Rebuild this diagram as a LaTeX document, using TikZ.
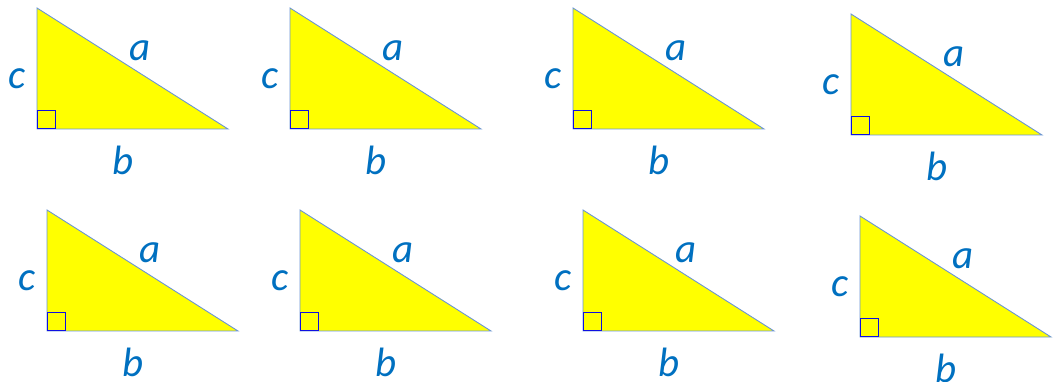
\documentclass[tikz,border=0pt]{standalone}
\usepackage{fontspec}
\setmainfont{Carlito}
\usetikzlibrary{positioning}
\definecolor{labelblue}{HTML}{0070C0}
\definecolor{edgeblue}{HTML}{6A94D4}
\definecolor{squareblue}{HTML}{1010E0}
\definecolor{trifill}{HTML}{FFFF00}

\begin{document}
\begin{tikzpicture}[
    x=1pt, y=-1pt,
    tri/.style={draw=edgeblue, fill=trifill, line width=0.9pt},
    rightsq/.style={draw=squareblue, line width=1.4pt},
    lbl/.style={text=labelblue, inner sep=0pt, font=\fontsize{41}{41}\selectfont\itshape}
]
\useasboundingbox (0,0) rectangle (1053,382);
% one right triangle per corner (bottom-left vertex given)
\foreach \i/\x/\y in {1/37/129, 2/290/129, 3/573/129, 4/851/135,
                      5/47/331, 6/300/331, 7/583/331, 8/860/337}{
  \coordinate (B\i) at (\x,\y);
  \coordinate (C\i) at (\x+191,\y);
  \coordinate (A\i) at (\x,\y-121);
  \draw[tri] (B\i) -- (C\i) -- (A\i) -- cycle;
  \draw[rightsq] ([shift={(0.7,-0.7)}]B\i) rectangle ++(18,-18);
  \node[lbl] (c\i) at (\x-20,\y-50) {c};
  \node[lbl] (a\i) at (\x+103,\y-78) {a};
  \node[lbl] (b\i) at (\x+86,\y+31) {b};
}
\end{tikzpicture}
\end{document}
